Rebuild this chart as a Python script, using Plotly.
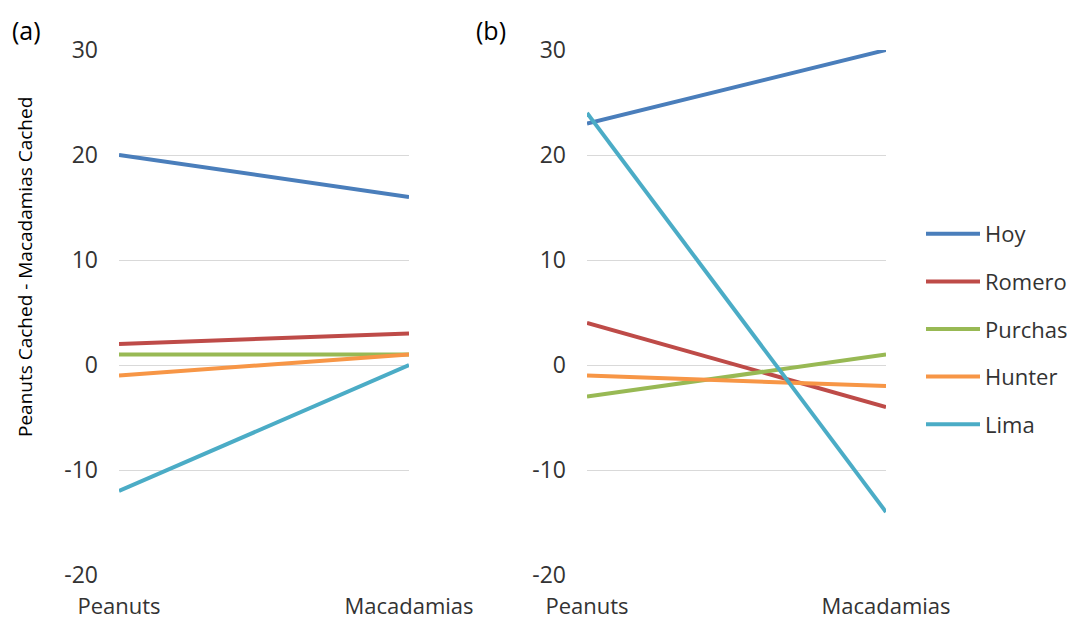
import plotly.graph_objects as go

categories = ["Peanuts", "Macadamias"]
series_names = ["Hoy", "Romero", "Purchas", "Hunter", "Lima"]
colors = ["#4a7ebb", "#be4b48", "#98b954", "#f79646", "#4bacc6"]

panel_a = {
    "Hoy": [20, 16],
    "Romero": [2, 3],
    "Purchas": [1, 1],
    "Hunter": [-1, 1],
    "Lima": [-12, 0],
}
panel_b = {
    "Hoy": [23, 30],
    "Romero": [4, -4],
    "Purchas": [-3, 1],
    "Hunter": [-1, -2],
    "Lima": [24, -14],
}
y_ticks = [-20, -10, 0, 10, 20, 30]
y_tick_labels = ["-20", "-10", "0", "10", "20", "30"]
y_range = [-20, 30]

FONT = "Open Sans"
OFF = 8  # default page body margin
W, H = 1075 - OFF, 624 - OFF
TXT = "#333333"


def px(x):
    return (x - OFF) / W


def py(y):
    return 1 - (y - OFF) / H


fig = go.Figure()
for name, col in zip(series_names, colors):
    fig.add_trace(go.Scatter(x=categories, y=panel_a[name], mode="lines",
                             line=dict(color=col, width=4), name=name,
                             legendgroup=name, showlegend=False,
                             xaxis="x", yaxis="y"))
    fig.add_trace(go.Scatter(x=categories, y=panel_b[name], mode="lines",
                             line=dict(color=col, width=4), name=name,
                             legendgroup=name, showlegend=True,
                             xaxis="x2", yaxis="y2"))

ydom = [py(575), py(50)]
zero_pos = ydom[0] + (0 - y_range[0]) / (y_range[1] - y_range[0]) * (ydom[1] - ydom[0])
xdom_a = [px(119), px(409)]
xdom_b = [px(587), px(886)]

common_x = dict(type="category", range=[0, 1], showgrid=False, zeroline=False,
                showline=False, ticks="", ticklabelstandoff=16, automargin=False,
                tickfont=dict(family=FONT, size=22, color=TXT))
common_y = dict(range=y_range, tickvals=y_ticks, ticktext=y_tick_labels,
                showgrid=True, gridcolor="#d9d9d9",
                gridwidth=1, zeroline=False, showline=False, ticks="",
                ticklabelstandoff=20, automargin=False,
                tickfont=dict(family=FONT, size=23, color=TXT))
zero_axis = dict(type="linear", range=[0, 1], tickvals=[0, 1], showticklabels=False,
                 ticks="outside", ticklen=6, tickcolor="#bfbfbf", tickwidth=1,
                 showline=True, linecolor="#bfbfbf", linewidth=1, showgrid=False,
                 zeroline=False, anchor="free", position=zero_pos, automargin=False)

fig.update_layout(
    width=W, height=H,
    margin=dict(l=0, r=0, t=0, b=0, autoexpand=False),
    paper_bgcolor="white", plot_bgcolor="white",
    xaxis=dict(domain=xdom_a, anchor="y", **common_x),
    yaxis=dict(domain=ydom, anchor="x", **common_y),
    xaxis2=dict(domain=xdom_b, anchor="y2", **common_x),
    yaxis2=dict(domain=ydom, anchor="x2", **common_y),
    xaxis3=dict(domain=xdom_a, overlaying="x", **zero_axis),
    xaxis4=dict(domain=xdom_b, overlaying="x2", **zero_axis),
    legend=dict(x=px(921), y=py(213), xanchor="left", yanchor="top",
                font=dict(family=FONT, size=22, color=TXT),
                tracegroupgap=16, itemwidth=54, bgcolor="rgba(0,0,0,0)"),
    annotations=[
        dict(text="(a)", x=px(10), y=py(30), xref="paper", yref="paper",
             xanchor="left", yanchor="middle", showarrow=False,
             font=dict(family=FONT, size=25, color="black")),
        dict(text="(b)", x=px(474), y=py(30), xref="paper", yref="paper",
             xanchor="left", yanchor="middle", showarrow=False,
             font=dict(family=FONT, size=25, color="black")),
        dict(text="Peanuts Cached - Macadamias Cached", x=px(25), y=py(267),
             xref="paper", yref="paper", xanchor="center", yanchor="middle",
             textangle=-90, showarrow=False,
             font=dict(family=FONT, size=19, color="black")),
    ],
)

fig.write_html("out.html")
